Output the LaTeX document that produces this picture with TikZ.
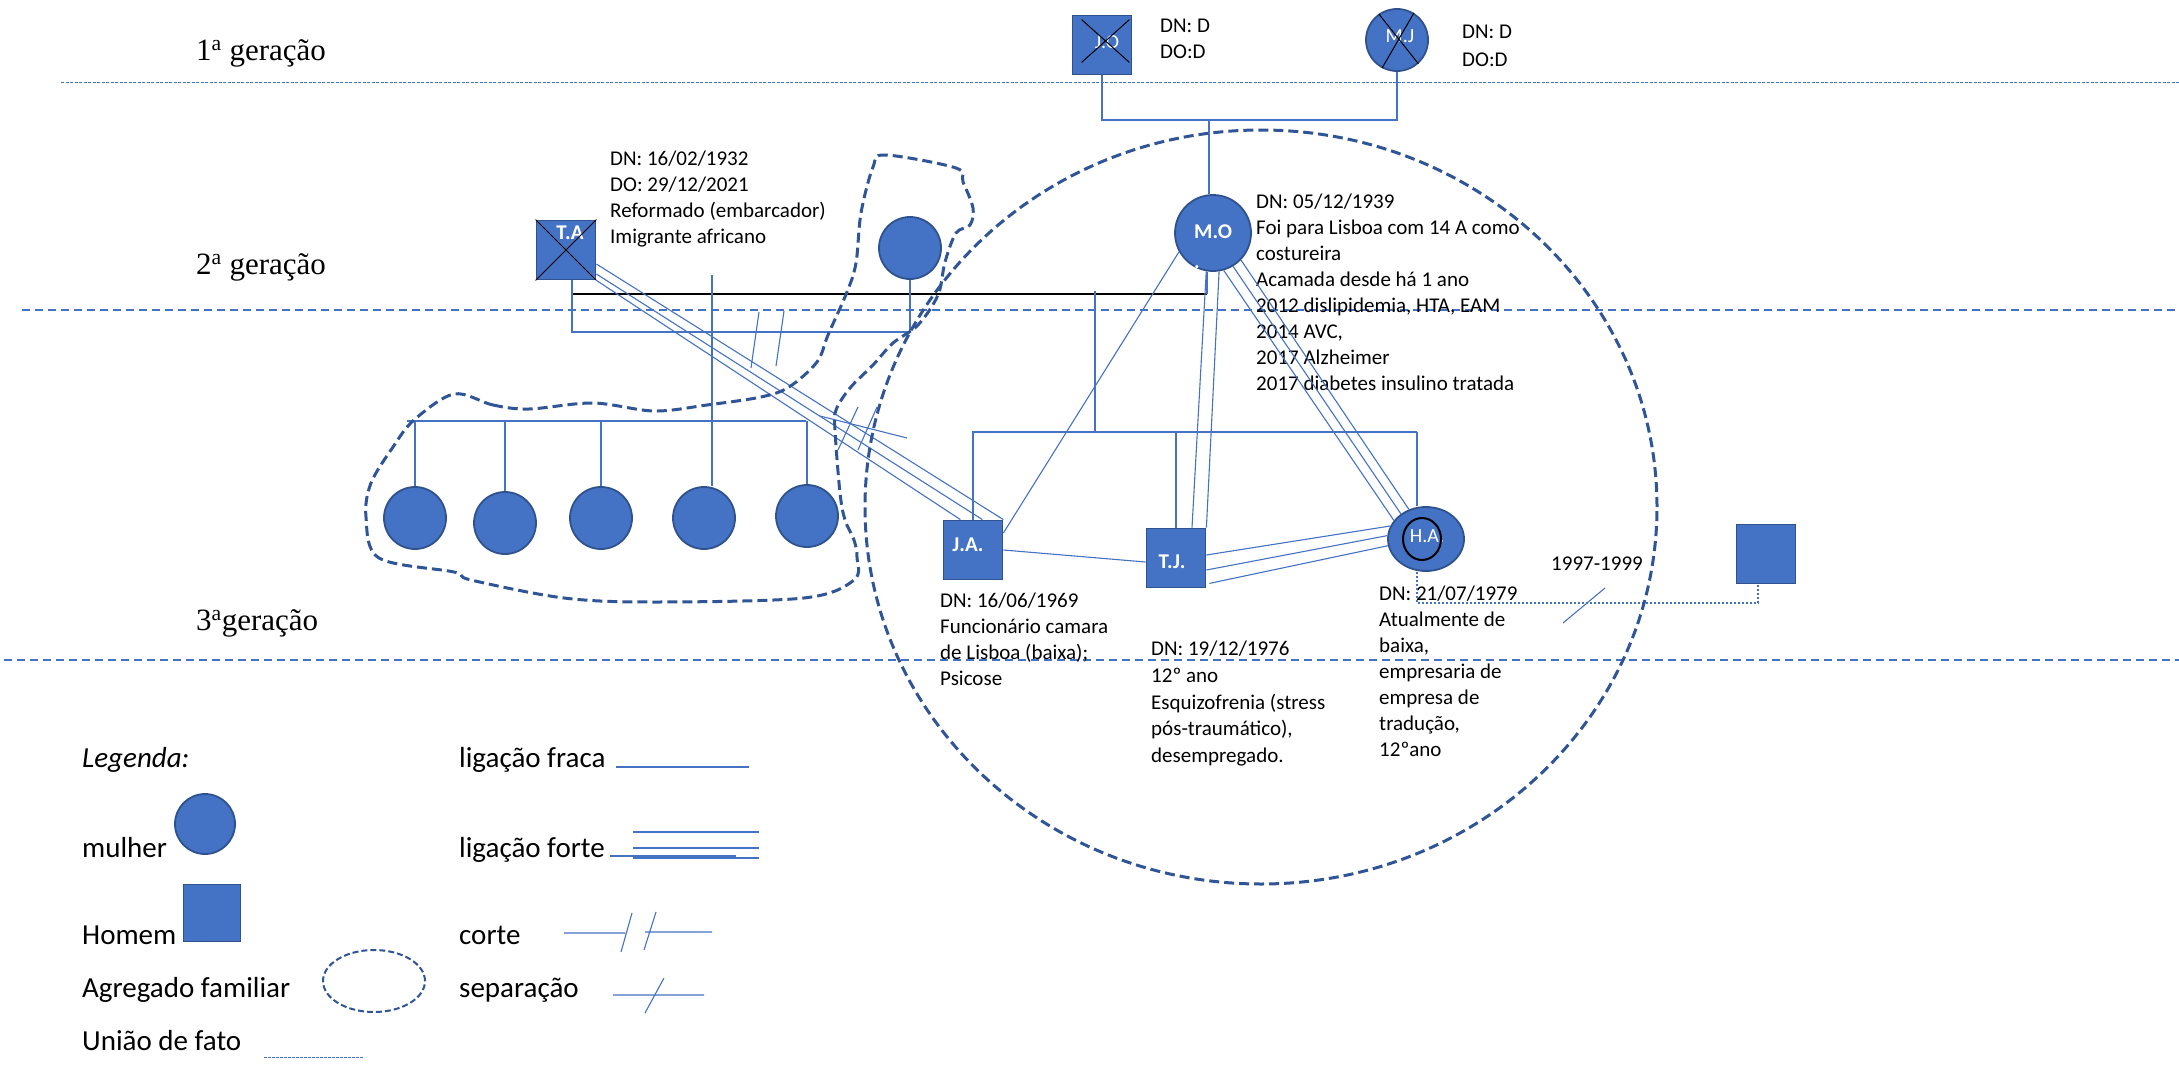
\documentclass[tikz,border=0pt]{standalone}
\usepackage{fontspec}
\setmainfont{Carlito}
\newfontfamily\serifgen{Liberation Serif}
\usetikzlibrary{positioning, shapes.geometric, calc}
\definecolor{gblue}{HTML}{4472C4}
\definecolor{gedge}{HTML}{2F528F}
\definecolor{ghouse}{HTML}{2F5597}

\begin{document}
\begin{tikzpicture}[x=1pt, y=-1pt,
    woman/.style={circle, draw=gedge, fill=gblue, line width=1.8pt, minimum size=62pt, inner sep=0pt},
    man/.style={rectangle, draw=gedge, fill=gblue, line width=1.8pt, minimum size=59pt, inner sep=0pt},
    tag/.style={text=white, inner sep=0pt, font=\fontsize{20pt}{24pt}\selectfont},
    tagb/.style={text=white, inner sep=0pt, font=\bfseries\fontsize{21pt}{24pt}\selectfont},
    note/.style={align=left, anchor=north west, inner sep=0pt, font=\fontsize{21pt}{26pt}\selectfont},
    gen/.style={anchor=west, inner sep=0pt, text height=22pt, text depth=8pt, font=\serifgen\fontsize{31pt}{36pt}\selectfont},
    legtext/.style={anchor=west, inner sep=0pt, text height=21pt, text depth=7pt, font=\fontsize{29pt}{34pt}\selectfont},
    link/.style={draw=gblue, line width=1.1pt},
    wed/.style={draw=black, line width=1.1pt},
    genline/.style={draw=gblue, line width=1.3pt, dash pattern=on 8pt off 5pt},
    house/.style={draw=ghouse, line width=3pt, dash pattern=on 10pt off 5pt},
    uniao/.style={draw=gblue, line width=1.1pt, dash pattern=on 2.5pt off 1.5pt},
    xcross/.style={draw=black, line width=1pt}
  ]
  \useasboundingbox (0,0) rectangle (2179,1065);

  % geracoes
  \node[gen] (g1) at (196,53) {1\textsuperscript{a} geração};
  \node[gen] (g2) at (196,267) {2\textsuperscript{a} geração};
  \node[gen] (g3) at (196,623) {3\textsuperscript{a}geração};
  \draw[genline, line width=1pt, dash pattern=on 3pt off 1.5pt] (61,82) -- (2179,82);
  \draw[genline] (22,310) -- (2179,310);
  \draw[genline] (4,660) -- (2179,660);

  % 1a geracao
  \node[man] (JO) at (1102,45) {};
  \node[tag] at ([shift={(5,-3)}]JO.center) {J.O};
  \draw[xcross] ([shift={(10,5)}]JO.north west) -- ([shift={(-3,-13)}]JO.south east);
  \draw[xcross] ([shift={(-3,5)}]JO.north east) -- ([shift={(10,-13)}]JO.south west);
  \node[note] (JOn) at (1160,19) {DN: D\\DO:D};

  \node[woman] (MJ) at (1397,40) {};
  \node[tag] at ([shift={(3,-4)}]MJ.center) {M.J};
  \draw[xcross] (MJ.125) -- (MJ.-48);
  \draw[xcross] (MJ.58) -- (MJ.-118);
  \node[note, font=\fontsize{21pt}{28pt}\selectfont] (MJn) at (1462,25) {DN: D\\DO:D};

  % 2a geracao
  \node[man] (TA) at (566,250) {};
  \node[tagb] at ([shift={(4,-17)}]TA.center) {T.A};
  \draw[xcross] (TA.north west) -- (TA.south east);
  \draw[xcross] (TA.north east) -- (TA.south west);
  \node[note] (TAn) at (610,151) {DN: 16/02/1932\\DO: 29/12/2021\\Reformado (embarcador)\\Imigrante africano};

  \node[woman] (EX) at (910,248) {};

  \node[woman, minimum size=76pt] (MO) at (1213,233) {};
  \node[tagb, align=left, anchor=north west, font=\bfseries\fontsize{21pt}{30pt}\selectfont] at (1194,225) {M.O\\.};
  \node[note] (MOn) at (1256,194) {DN: 05/12/1939\\Foi para Lisboa com 14 A como\\costureira\\Acamada desde há 1 ano\\2012 dislipidemia, HTA, EAM\\2014 AVC,\\2017 Alzheimer\\2017 diabetes insulino tratada};

  % 3a geracao
  \node[woman] (c1) at (415,518) {};
  \node[woman] (c2) at (505,523) {};
  \node[woman] (c3) at (601,518) {};
  \node[woman] (c4) at (704,518) {};
  \node[woman] (c5) at (807,516) {};

  \node[man] (JA) at (973,550) {};
  \node[tagb] at ([shift={(-5,-5)}]JA.center) {J.A.};
  \node[note] (JAn) at (940,593) {DN: 16/06/1969\\Funcionário camara\\de Lisboa (baixa);\\Psicose};

  \node[man] (TJ) at (1176,558) {};
  \node[tagb] at ([shift={(-4,4)}]TJ.center) {T.J.};
  \node[note, font=\fontsize{21pt}{26.7pt}\selectfont] (TJn) at (1151,641) {DN: 19/12/1976\\12º ano\\Esquizofrenia (stress\\pós-traumático),\\desempregado.};

  \node[ellipse, draw=gedge, fill=gblue, line width=1.8pt, minimum width=76pt, minimum height=64pt, inner sep=0pt] (HA) at (1426,539) {};
  \node[tag] at ([shift={(1,-3)}]HA.center) {H.A.};
  \draw[black, line width=2pt] ([shift={(-4,0)}]HA.center) ellipse [x radius=19pt, y radius=21pt];
  \node[note] (HAn) at (1379,586) {DN: 21/07/1979\\Atualmente de\\baixa,\\empresaria de\\empresa de\\tradução,\\12ºano};

  \node[man] (HP) at (1766,554) {};
  \node[inner sep=0pt, font=\fontsize{21pt}{26pt}\selectfont] (sep) at (1597,564) {1997-1999};

  % ligacoes 1a geracao
  \coordinate (u1) at (1209,120);
  \draw[link] (JO.south) |- (u1) -| (MJ.south);
  \draw[link] (u1) -- (u1 |- MO.north);

  % T.A - M.O e T.A - ex
  \coordinate (m2) at (1207,294);
  \coordinate (tad) at ([shift={(6,0)}]TA.south);
  \draw[wed] (tad |- m2) -- (m2);
  \draw[link] (m2) -- (m2 |- MO.south);
  \coordinate (u3) at (910,332);
  \draw[link] (tad) |- (u3) -- (EX.south);
  \draw[link] (759,312) -- (751,368) (784,311) -- (776,366);

  % filhos T.A - ex
  \coordinate (k0) at (712,275);
  \coordinate (k1) at (407,421);
  \coordinate (k2) at (806,421);
  \draw[link] (k0) -- (k0 |- c4.north);
  \draw[link] (k1) -- (k2);
  \foreach \kid in {c1,c2,c3,c5}
    \draw[link] (\kid.north |- k1) -- (\kid.north);

  % filhos T.A - M.O
  \coordinate (s0) at (1095,291);
  \coordinate (s2) at (1417,432);
  \draw[link] (s0) -- (s0 |- s2);
  \draw[link] (JA.north) |- (s2);
  \draw[link] (TJ.north) -- (TJ.north |- s2);
  \draw[link] (s2) -- (s2 |- HA.north);

  % ligacoes fortes
  \draw[link] ([shift={(0,14)}]TA.east) -- (JA.north east);
  \draw[link] ([shift={(0,24)}]TA.east) -- ([shift={(-21,0)}]JA.north east);
  \draw[link] (TA.south east) -- ([shift={(-43,0)}]JA.north east);
  \draw[link] (820,416) -- (907,438) (858,407) -- (838,450) (877,407) -- (858,450);

  \draw[link] (MO.260) -- ([shift={(16,0)}]TJ.north);
  \draw[link] (MO.279) -- (TJ.north east);
  \draw[link] (MO.286) -- (HA.150);
  \draw[link] (MO.301) -- (HA.135);
  \draw[link] (MO.316) -- (HA.120);
  \draw[link] ([shift={(0,-3)}]TJ.east) -- (HA.160);
  \draw[link] ([shift={(0,12)}]TJ.east) -- (HA.175);
  \draw[link] ([shift={(3,-5)}]TJ.south east) -- (HA.190);

  % ligacoes fracas
  \draw[link] (MO.209) -- ([shift={(0,-17)}]JA.east);
  \draw[link] (JA.east) -- ([shift={(0,4)}]TJ.west);

  % uniao de fato e separacao
  \coordinate (uf) at (1758,603);
  \draw[uniao] ([shift={(-9,0)}]HA.south) |- (uf) -- ([shift={(-8,0)}]HP.south);
  \draw[link] (1563,623) -- (1605,588);

  % agregados familiares
  \draw[house] plot[smooth cycle, tension=0.55] coordinates {
    (454,394) (493,405) (529,409) (593,403) (654,411) (707,405) (761,397)
    (789,387) (817,362) (828,335) (847,292) (856,263) (861,213) (873,167)
    (885,155) (956,168) (963,182) (973,208) (970,225) (956,233) (945,262)
    (938,295) (918,325) (893,343) (873,365) (850,388) (836,410) (835,430)
    (840,493) (845,520) (854,540) (857,557) (854,580) (804,598) (654,602)
    (564,598) (471,580) (454,572) (379,558) (366,517) (371,483) (393,447)
    (414,420)};
  \draw[house] (1261,507) ellipse [x radius=396pt, y radius=377pt];

  % legenda
  \node[legtext, font=\itshape\fontsize{29pt}{34pt}\selectfont] (Lg) at (82,760) {Legenda:};
  \node[legtext] (Lw) at (82,850) {mulher};
  \node[woman, minimum size=60pt] (Lwc) at (205,824) {};
  \node[legtext] (Lm) at (82,937) {Homem};
  \node[man, minimum size=57pt] (Lms) at (212,913) {};
  \node[legtext] (La) at (82,990) {Agregado familiar};
  \draw[house, line width=2pt, dash pattern=on 6pt off 3pt] (374,981) ellipse [x radius=51pt, y radius=31pt];
  \node[legtext] (Lu) at (82,1043) {União de fato};
  \draw[uniao, line width=0.8pt] (264,1057) -- (364,1057);

  \node[legtext] (Lf) at (459,760) {ligação fraca};
  \draw[link, line width=2.5pt] (616,767) -- (749,767);
  \node[legtext] (Ls) at (459,850) {ligação forte};
  \draw[link] (633,832) -- (759,832) (633,848) -- (759,848) (633,858) -- (759,858) (610,856) -- (736,856);
  \node[legtext] (Lc) at (459,937) {corte};
  \draw[link] (564,933) -- (625,933) (645,932) -- (712,932) (632,913) -- (621,952) (656,912) -- (644,950);
  \node[legtext] (Lsp) at (459,990) {separação};
  \draw[link] (613,995) -- (704,995) (664,978) -- (645,1013);
\end{tikzpicture}
\end{document}
